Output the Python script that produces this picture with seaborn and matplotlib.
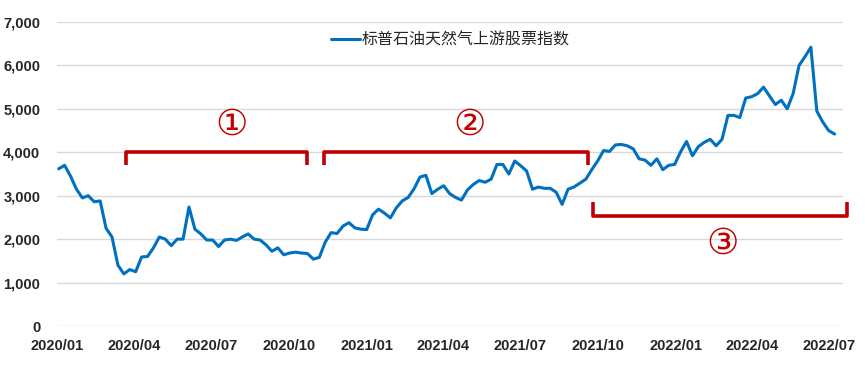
import pandas as pd
import numpy as np
import matplotlib
matplotlib.use('Agg')
import matplotlib.pyplot as plt
import matplotlib.dates as mdates
import seaborn as sns

# Datos semanales (viernes desde 2020-01-03)
start_date = '2020-01-03'
index_values = [
    3620, 3700, 3450, 3150, 2950, 3000, 2860, 2880, 2250, 2050,
    1400, 1200, 1300, 1250, 1590, 1600, 1800, 2050, 2000, 1850,
    2000, 2000, 2740, 2230, 2120, 1980, 1980, 1830, 1980, 2000,
    1970, 2050, 2120, 2000, 1980, 1870, 1720, 1800, 1640, 1680,
    1700, 1680, 1670, 1540, 1580, 1930, 2150, 2130, 2300, 2380,
    2260, 2230, 2220, 2560, 2690, 2600, 2490, 2720, 2880, 2960,
    3160, 3430, 3470, 3050, 3150, 3230, 3050, 2960, 2900, 3130,
    3260, 3350, 3310, 3380, 3720, 3720, 3500, 3800, 3690, 3570,
    3150, 3200, 3170, 3170, 3080, 2800, 3150, 3200, 3290, 3380,
    3600, 3800, 4040, 4020, 4170, 4180, 4150, 4080, 3850, 3820,
    3700, 3850, 3600, 3700, 3720, 4010, 4250, 3920, 4130, 4230,
    4300, 4150, 4300, 4850, 4850, 4800, 5250, 5280, 5350, 5500,
    5300, 5100, 5200, 5000, 5350, 6000, 6200, 6420, 4950, 4700,
    4500, 4420,
]
series_name = '标普石油天然气上游股票指数'

# Corchetes de los tramos: (fechas, valores) y etiquetas
bracket_1_dates = ['2020-03-23', '2020-03-23', '2020-10-22', '2020-10-22']
bracket_1_values = [3700, 4000, 4000, 3700]
bracket_2_dates = ['2020-11-11', '2020-11-11', '2021-09-20', '2021-09-20']
bracket_2_values = [3700, 4000, 4000, 3700]
bracket_3_dates = ['2021-09-26', '2021-09-26', '2022-07-23', '2022-07-23']
bracket_3_values = [2850, 2530, 2530, 2850]
phase_labels = ['①', '②', '③']
phase_label_dates = ['2020-07-25', '2021-05-03', '2022-02-26']
phase_label_values = [4630, 4630, 1900]

dates = pd.date_range(start_date, periods=len(index_values), freq='W-FRI')
df = pd.DataFrame({'fecha': dates, 'valor': index_values, 'serie': series_name})

sns.set_style('white')
plt.rcParams['font.family'] = ['Noto Sans CJK SC', 'DejaVu Sans']

fig = plt.figure(figsize=(8.65, 3.67), dpi=100)
ax = fig.add_axes([0.0659, 0.1117, 0.9087, 0.8283])

sns.lineplot(data=df, x='fecha', y='valor', hue='serie', palette=['#0070C0'],
             linewidth=2.2, ax=ax)

red = '#C00000'
for bd, bv in [(bracket_1_dates, bracket_1_values),
               (bracket_2_dates, bracket_2_values),
               (bracket_3_dates, bracket_3_values)]:
    ax.plot(pd.to_datetime(bd), bv, color=red, lw=2.6, clip_on=False,
            solid_joinstyle='round', solid_capstyle='butt')

for lab, d, v in zip(phase_labels, phase_label_dates, phase_label_values):
    fam = ['DejaVu Sans'] if lab == '①' else ['DejaVu Serif', 'DejaVu Sans']
    ax.text(pd.Timestamp(d), v, lab, color=red, fontsize=26, ha='center',
            va='center', family=fam)

ax.set_ylim(0, 7000)
ax.set_xlim(pd.Timestamp('2020-01-01'), pd.Timestamp('2022-07-18'))
ax.set_yticks(np.arange(0, 7001, 1000))
ax.yaxis.set_major_formatter(matplotlib.ticker.FuncFormatter(lambda v, p: f'{int(v):,}'))
ax.xaxis.set_major_locator(mdates.MonthLocator(bymonth=[1, 4, 7, 10]))
ax.xaxis.set_major_formatter(mdates.DateFormatter('%Y/%m'))
ax.grid(axis='y', color='#D9D9D9', lw=1)
ax.grid(axis='x', visible=False)
for s in ax.spines.values():
    s.set_visible(False)
ax.tick_params(axis='both', length=0)
ax.tick_params(axis='y', pad=12)
ax.tick_params(axis='x', pad=9)
for t in ax.get_xticklabels() + ax.get_yticklabels():
    t.set_family('Liberation Sans')
    t.set_fontweight('bold')
    t.set_fontsize(10.5)
ax.set_xlabel('')
ax.set_ylabel('')

leg = ax.legend(loc='center', bbox_to_anchor=(0.5, 0.94), frameon=False,
                handlelength=1.8, handletextpad=0.1, fontsize=11.5)
for h in leg.get_lines():
    h.set_linewidth(2.2)

fig.savefig('out.png', dpi=100)
